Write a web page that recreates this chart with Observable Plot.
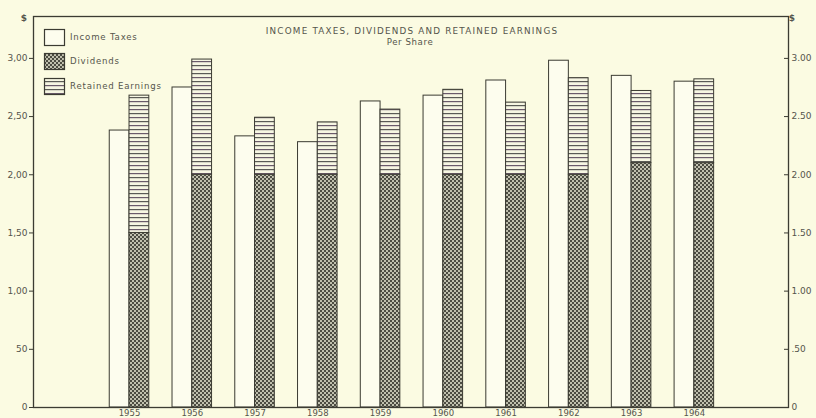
<!DOCTYPE html>
<html>
<head>
<meta charset="utf-8">
<script src="https://cdn.jsdelivr.net/npm/d3@7"></script>
<script src="https://cdn.jsdelivr.net/npm/@observablehq/plot@0.6"></script>
<style>
  html, body { margin: 0; padding: 0; background: #fbfbe2; }
  #chart { width: 816px; height: 418px; overflow: hidden; }
  svg { font-family: "DejaVu Sans", sans-serif; }
</style>
</head>
<body>
<div id="chart"></div>
<script>
// ---- data (per share, dollars) ----
const years        = [1955, 1956, 1957, 1958, 1959, 1960, 1961, 1962, 1963, 1964];
const incomeTaxes  = [2.38, 2.75, 2.33, 2.28, 2.63, 2.68, 2.81, 2.98, 2.85, 2.80];
const dividends    = [1.50, 2.00, 2.00, 2.00, 2.00, 2.00, 2.00, 2.00, 2.10, 2.10];
const totalDivRet  = [2.68, 2.99, 2.49, 2.45, 2.56, 2.73, 2.62, 2.83, 2.72, 2.82];
const retained     = totalDivRet.map((t, i) => +(t - dividends[i]).toFixed(2));
const yTicks       = [0, 0.5, 1.0, 1.5, 2.0, 2.5, 3.0];
const leftLabels   = ["0", "50", "1,00", "1,50", "2,00", "2,50", "3,00"];
const rightLabels  = ["0", ".50", "1.00", "1.50", "2.00", "2.50", "3.00"];
const seriesNames  = ["Income Taxes", "Dividends", "Retained Earnings"];
const titleText    = "INCOME TAXES, DIVIDENDS AND RETAINED EARNINGS";
const subtitleText = "Per Share";

const taxRows = years.map((y, i) => ({year: y, value: incomeTaxes[i]}));
const stackRows = years.flatMap((y, i) => [
  {year: y, series: "Dividends", value: dividends[i]},
  {year: y, series: "Retained Earnings", value: retained[i]}
]);

const ink = "#3b3b32";
const textCol = "#55554c";
const halfW = 0.315;

const chart = Plot.plot({
  width: 816,
  height: 418,
  marginLeft: 33,
  marginRight: 28,
  marginTop: 16,
  marginBottom: 11,
  style: {background: "transparent", color: textCol, fontSize: "9px", fontFamily: "DejaVu Sans, sans-serif"},
  x: {type: "linear", domain: [1953.47, 1965.5]},
  y: {domain: [0, 3.36]},
  marks: [
    Plot.rectY(taxRows, {x1: d => d.year - halfW, x2: d => d.year, y: "value", fill: "#fdfdee", stroke: ink, strokeWidth: 1}),
    Plot.rectY(stackRows, Plot.stackY({
      x1: d => d.year, x2: d => d.year + halfW, y: "value",
      order: ["Dividends", "Retained Earnings"],
      fill: d => d.series === "Dividends" ? "url(#patDiv)" : "url(#patRet)",
      stroke: ink, strokeWidth: 1
    })),
    Plot.frame({stroke: ink, strokeWidth: 1.3}),
    Plot.axisY({anchor: "left", ticks: yTicks, tickSize: 4, tickPadding: 2, tickFormat: (d) => leftLabels[yTicks.indexOf(d)], stroke: ink, fill: textCol, fontSize: 9, label: null}),
    Plot.axisY({anchor: "right", ticks: yTicks, tickSize: -5, tickPadding: 8, tickFormat: (d) => rightLabels[yTicks.indexOf(d)], stroke: ink, fill: textCol, fontSize: 9, label: null}),
    Plot.axisX({ticks: years, tickSize: 0, tickPadding: 2.5, tickFormat: d => String(d), fill: textCol, fontSize: 8.5, label: null})
  ]
});

document.getElementById("chart").appendChild(chart);

const svg = d3.select(chart);
const defs = svg.insert("defs", ":first-child");
const pd = defs.append("pattern").attr("id", "patDiv").attr("patternUnits", "userSpaceOnUse")
  .attr("width", 4).attr("height", 4);
pd.append("rect").attr("width", 4).attr("height", 4).attr("fill", "#4c4c42");
pd.append("circle").attr("cx", 1).attr("cy", 1).attr("r", 0.95).attr("fill", "#f2f2dc");
pd.append("circle").attr("cx", 3).attr("cy", 3).attr("r", 0.95).attr("fill", "#f2f2dc");

const pr = defs.append("pattern").attr("id", "patRet").attr("patternUnits", "userSpaceOnUse")
  .attr("width", 8).attr("height", 8);
pr.append("rect").attr("width", 8).attr("height", 8).attr("fill", "#f6f6e2");
pr.append("rect").attr("y", 1).attr("width", 8).attr("height", 1.2).attr("fill", "#5a5a55");
pr.append("rect").attr("y", 5).attr("width", 8).attr("height", 1.2).attr("fill", "#6a5a6a");

// title
svg.append("text").attr("x", 412).attr("y", 34).attr("text-anchor", "middle")
  .attr("font-size", 8.8).attr("letter-spacing", "1.2px").attr("fill", textCol).text(titleText);
svg.append("text").attr("x", 410).attr("y", 45).attr("text-anchor", "middle")
  .attr("font-size", 8.6).attr("letter-spacing", "0.6px").attr("fill", textCol).text(subtitleText);

// "$" unit markers
svg.append("text").attr("x", 24).attr("y", 21).attr("text-anchor", "middle")
  .attr("font-size", 9).attr("font-weight", "bold").attr("fill", textCol).text("$");
svg.append("text").attr("x", 792).attr("y", 21).attr("text-anchor", "middle")
  .attr("font-size", 9).attr("font-weight", "bold").attr("fill", textCol).text("$");

// legend
const legFills = ["#fdfdee", "url(#patDiv)", "url(#patRet)"];
const legY = [29, 53, 78];
seriesNames.forEach((name, i) => {
  svg.append("rect").attr("x", 44.5).attr("y", legY[i] + 0.5).attr("width", 20).attr("height", 16)
    .attr("fill", legFills[i]).attr("stroke", ink).attr("stroke-width", 1.2);
  svg.append("text").attr("x", 70).attr("y", legY[i] + 11).attr("text-anchor", "start")
    .attr("font-size", 8.6).attr("letter-spacing", "0.8px").attr("fill", textCol).text(name);
});
</script>
</body>
</html>
